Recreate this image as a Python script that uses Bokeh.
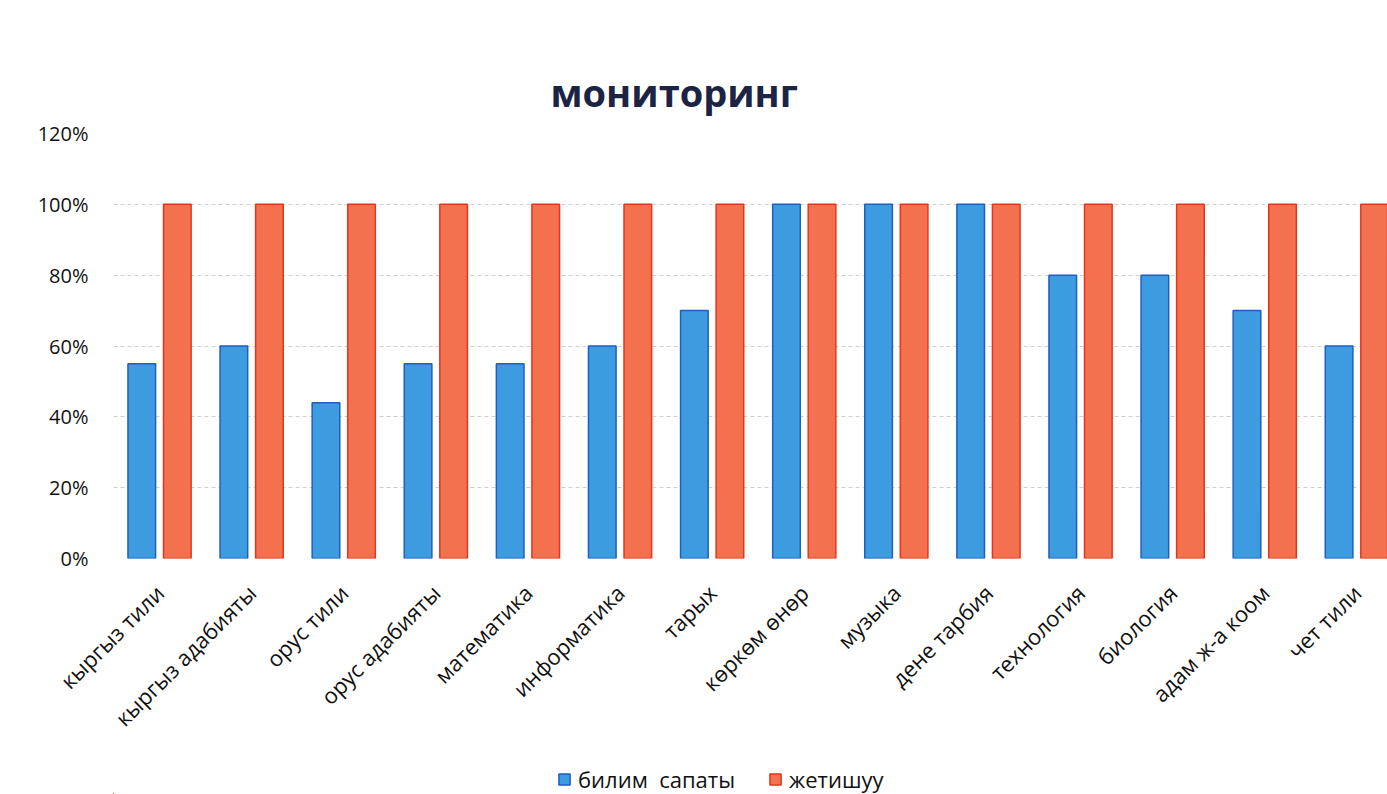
import numpy as np
from bokeh.plotting import figure
from bokeh.layouts import column
from bokeh.models import FixedTicker, NumeralTickFormatter, Legend, LegendItem, ColumnDataSource, Range1d
from bokeh.embed import file_html
from bokeh.resources import INLINE

categories = ["кыргыз тили", "кыргыз адабияты", "орус тили", "орус адабияты", "математика",
              "информатика", "тарых", "көркөм өнөр", "музыка", "дене тарбия",
              "технология", "биология", "адам ж-а коом", "чет тили"]
bilim_sapaty = [0.55, 0.60, 0.44, 0.55, 0.55, 0.60, 0.70, 1.00, 1.00, 1.00, 0.80, 0.80, 0.70, 0.60]
jetishuu = [1.00] * 14
y_ticks = [0, 0.2, 0.4, 0.6, 0.8, 1.0, 1.2]
series_names = ["билим  сапаты", "жетишуу"]
chart_title = "мониторинг"

FONT = "Open Sans"
BLUE, BLUE_EDGE = "#3d9be0", "#1f5fbf"
RED, RED_EDGE = "#f4714f", "#e2361c"
idx = np.arange(len(categories))
src = ColumnDataSource(dict(xb=idx - 0.193, xr=idx + 0.193, b=bilim_sapaty, r=jetishuu))

W = 1387
H1, H2 = 748, 46
LEFT, TOP = 113, 133
x_end = -0.5 + (W - LEFT) / 92.1

p = figure(width=W, height=H1, output_backend="svg", toolbar_location=None,
           x_range=(-0.5, x_end), y_range=(0, 1.2),
           min_border_left=LEFT, min_border_right=0, min_border_top=TOP,
           min_border_bottom=H1 - 558)
p.outline_line_color = None
p.background_fill_color = "white"

p.title.text = chart_title
p.title.text_font = FONT
p.title.text_font_size = "38px"
p.title.text_font_style = "bold"
p.title.text_color = "#1c2444"
p.title.align = "left"
p.title.offset = 437
p.title.standoff = 32

bar_b = dict(fill_color=BLUE, line_color=BLUE_EDGE, line_width=1.5)
bar_r = dict(fill_color=RED, line_color=RED_EDGE, line_width=1.5)
p.vbar(x="xb", top="b", width=0.30, source=src, **bar_b)
p.vbar(x="xr", top="r", width=0.30, source=src, **bar_r)

p.xgrid.grid_line_color = None
p.ygrid.ticker = FixedTicker(ticks=y_ticks)
p.ygrid.grid_line_color = "#cfcfcf"
p.ygrid.grid_line_dash = "4 3"

p.yaxis.ticker = FixedTicker(ticks=y_ticks)
p.yaxis.formatter = NumeralTickFormatter(format="0%")
p.yaxis.axis_line_color = None
p.yaxis.major_tick_line_color = None
p.yaxis.minor_tick_line_color = None
p.yaxis.major_label_standoff = 19
p.yaxis.major_label_text_font = FONT
p.yaxis.major_label_text_font_size = "20px"
p.yaxis.major_label_text_color = "#111111"

p.xaxis.ticker = FixedTicker(ticks=list(idx))
p.xaxis.major_label_overrides = {int(i): c for i, c in zip(idx, categories)}
p.xaxis.major_label_orientation = np.pi / 4
p.xaxis.axis_line_color = None
p.xaxis.major_tick_line_color = None
p.xaxis.minor_tick_line_color = None
p.xaxis.major_label_standoff = 24
p.xaxis.major_label_text_font = FONT
p.xaxis.major_label_text_font_size = "22px"
p.xaxis.major_label_text_color = "#111111"

# legend strip (its frame is aligned with the main plot's frame by the column layout);
# the same bars are drawn here but lie far outside its view, so only the legend shows
p2 = figure(width=W, height=H2, output_backend="svg", toolbar_location=None,
            x_range=Range1d(5000, 5001), y_range=Range1d(5000, 5001),
            min_border_left=0, min_border_right=0, min_border_top=0, min_border_bottom=0)
p2.axis.visible = False
p2.grid.visible = False
p2.outline_line_color = None
lb = p2.vbar(x="xb", top="b", width=0.30, source=src, **bar_b)
lr = p2.vbar(x="xr", top="r", width=0.30, source=src, **bar_r)
legend = Legend(items=[LegendItem(label=series_names[0], renderers=[lb], index=0),
                       LegendItem(label=series_names[1], renderers=[lr], index=0)],
                orientation="horizontal", location=(444, 0),
                label_text_font=FONT, label_text_font_size="22px", label_text_color="#111111",
                glyph_width=14, glyph_height=14, label_standoff=7, spacing=33,
                padding=0, margin=0, border_line_color=None, background_fill_alpha=0)
p2.add_layout(legend)

layout = column(p, p2, spacing=0)
open("out.html", "w").write(file_html(layout, INLINE))
